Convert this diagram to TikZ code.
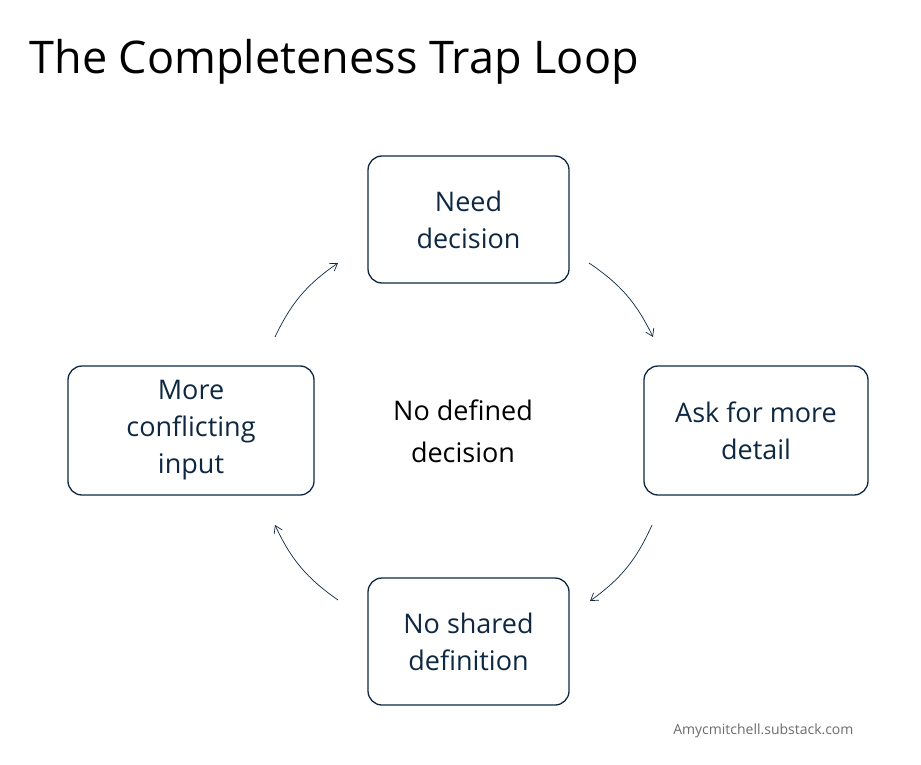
\documentclass[tikz,border=0pt]{standalone}
\usepackage{fontspec}
\setmainfont{Open Sans}
\usetikzlibrary{arrows.meta,shadows}
\definecolor{navy}{HTML}{0E2841}
\begin{document}
\begin{tikzpicture}[x=1pt,y=-1pt,
 box/.style={draw=navy,line width=1.3pt,rounded corners=14pt,text=navy,align=center,font=\fontsize{27}{37}\selectfont,inner sep=0pt},
 arr/.style={draw=navy,line width=0.7pt,-{Straight Barb[length=7pt,width=9pt]}}]
\useasboundingbox (0,0) rectangle (921,765);
\node[anchor=west,font=\fontsize{45}{50}\selectfont] (title) at (26,62) {The Completeness Trap Loop};
\node[box,minimum width=201pt,minimum height=127pt] (top) at (468.5,219.5) {Need\\decision};
\node[box,minimum width=224pt,minimum height=129pt] (right) at (756,430.5) {Ask for more\\detail};
\node[box,minimum width=201pt,minimum height=127pt] (bot) at (468.5,641.5) {No shared\\definition};
\node[box,minimum width=246pt,minimum height=129pt] (left) at (191,430.5) {More\\conflicting\\input};
\node[align=center,font=\fontsize{27}{42}\selectfont,text=black,
 preaction={}] (mid) at (463,431) {No defined\\decision};
\coordinate (a1) at (589,263); \coordinate (a2) at (653,337);
\coordinate (b1) at (652,525); \coordinate (b2) at (590,601);
\coordinate (c1) at (338,600); \coordinate (c2) at (275,525);
\coordinate (d1) at (275,337); \coordinate (d2) at (338,263);
\draw[arr] (a1) to[bend left=15] (a2);
\draw[arr] (b1) to[bend left=15] (b2);
\draw[arr] (c1) to[bend left=15] (c2);
\draw[arr] (d1) to[bend left=15] (d2);
\node[anchor=east,text=gray!85!black,font=\fontsize{14}{16}\selectfont] (foot) at (857,731) {Amycmitchell.substack.com};
\end{tikzpicture}
\end{document}
